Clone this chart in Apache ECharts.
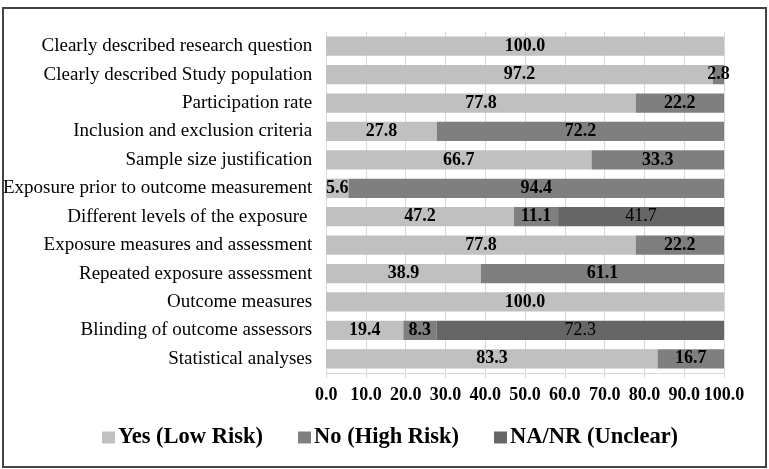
<!DOCTYPE html>
<html><head><meta charset="utf-8">
<script src="https://cdn.jsdelivr.net/npm/echarts@6/dist/echarts.min.js"></script>
<style>html,body{margin:0;padding:0;background:#fff}#c{width:769px;height:469px}</style>
</head><body><div id="c"></div>
<script>
const categories = [
  "Clearly described research question",
  "Clearly described Study population",
  "Participation rate",
  "Inclusion and exclusion criteria",
  "Sample size justification",
  "Exposure prior to outcome measurement",
  "Different levels of the exposure ",
  "Exposure measures and assessment",
  "Repeated exposure assessment",
  "Outcome measures",
  "Blinding of outcome assessors",
  "Statistical analyses"
];
const yesLow = [100.0, 97.2, 77.8, 27.8, 66.7, 5.6, 47.2, 77.8, 38.9, 100.0, 19.4, 83.3];
const noHigh = [null, 2.8, 22.2, 72.2, 33.3, 94.4, 11.1, 22.2, 61.1, null, 8.3, 16.7];
const naUnclear = [null, null, null, null, null, null, 41.7, null, null, null, 72.3, null];
const tickLabels = ["0.0","10.0","20.0","30.0","40.0","50.0","60.0","70.0","80.0","90.0","100.0"];

const font = "'Liberation Serif','Times New Roman',serif";
const chart = echarts.init(document.getElementById('c'));
const lbl = {show:true, position:'inside', fontFamily:font, fontSize:18, fontWeight:'bold', color:'#000',
  formatter: p => p.value == null ? '' : p.value.toFixed(1)};
const naLbl = Object.assign({}, lbl, {fontWeight:'normal'});
chart.setOption({
  animation:false,
  grid:{left:326, right:45, top:32, bottom:96, containLabel:false},
  legend:{top:426, left:102, padding:0, itemWidth:13, itemHeight:12, itemGap:35, icon:'rect',
    textStyle:{fontFamily:font, fontSize:22.5, fontWeight:'bold', color:'#000', padding:[0,0,0,-2]},
    data:['Yes (Low Risk)','No (High Risk)','NA/NR (Unclear)']},
  xAxis:{type:'value', min:0, max:100, interval:10,
    axisLabel:{fontFamily:font, fontSize:18, fontWeight:'bold', color:'#000', margin:13,
      formatter:v => tickLabels[Math.round(v/10)]},
    axisLine:{show:true, lineStyle:{color:'#d9d9d9'}},
    axisTick:{show:true, length:5, lineStyle:{color:'#d9d9d9'}},
    splitLine:{show:true, lineStyle:{color:'#d9d9d9'}}},
  yAxis:{type:'category', inverse:true, data:categories,
    axisLine:{show:false}, axisTick:{show:false},
    axisLabel:{fontFamily:font, fontSize:19, color:'#000', margin:14}},
  series:[
    {name:'Yes (Low Risk)', type:'bar', stack:'s', data:yesLow, barWidth:'68%', itemStyle:{color:'#c0c0c0'}, label:lbl},
    {name:'No (High Risk)', type:'bar', stack:'s', data:noHigh, itemStyle:{color:'#7f7f7f'}, label:lbl},
    {name:'NA/NR (Unclear)', type:'bar', stack:'s', data:naUnclear, itemStyle:{color:'#666666'}, label:naLbl}
  ],
  graphic:[{type:'rect', shape:{x:3, y:8, width:763, height:459}, style:{fill:'none', stroke:'#444', lineWidth:2}, silent:true}]
});
</script></body></html>
